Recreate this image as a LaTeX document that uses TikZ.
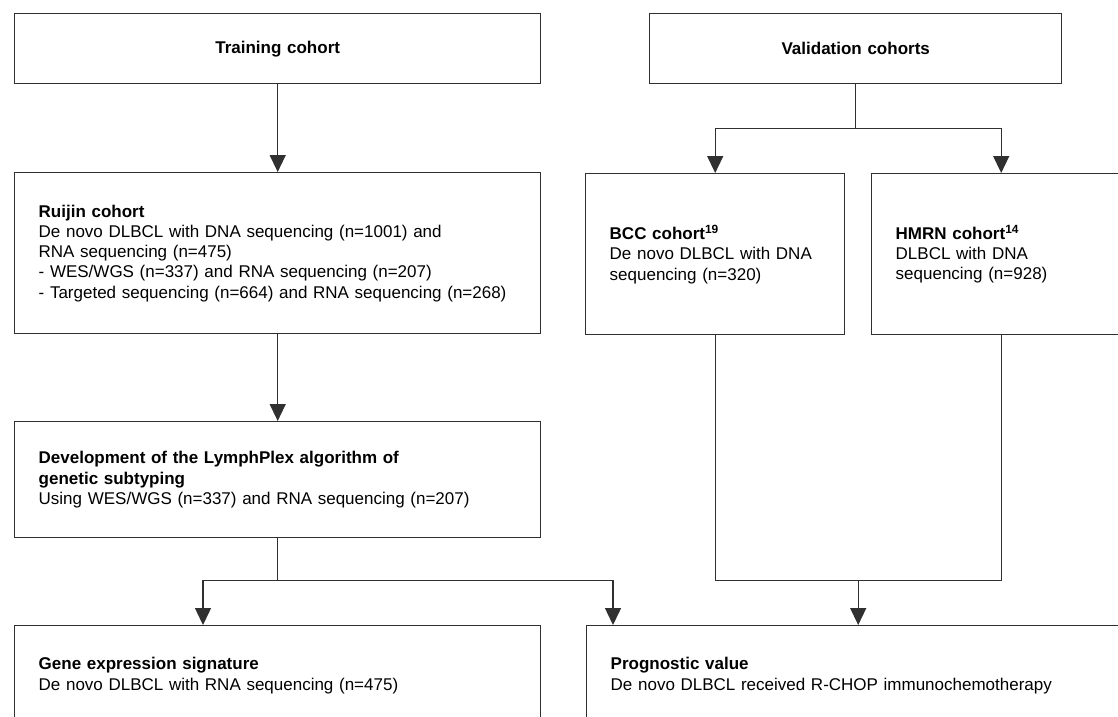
\documentclass[tikz,border=0pt]{standalone}
\usepackage{fontspec}
\setmainfont{Liberation Sans}
\usetikzlibrary{arrows.meta,calc}
\definecolor{linegray}{HTML}{303030}
\tikzset{
  box/.style={draw=linegray, line width=1.4pt, anchor=north west, inner xsep=24pt, inner ysep=0pt,
    align=left, font=\fontsize{17pt}{20.3pt}\selectfont},
  link/.style={draw=linegray, line width=1.4pt},
  arr/.style={link, -{Triangle[length=17pt,width=16pt]}},
}
\begin{document}
\begin{tikzpicture}[x=1pt,y=-1pt]
\useasboundingbox (0,0) rectangle (1118,716);

% top row
\node[box, text width=478pt, minimum height=70pt, align=center] (train) at (14,13) {\textbf{Training cohort}};
\node[box, text width=364pt, minimum height=70pt, align=center] (valid) at (649,13) {\textbf{Validation cohorts}};

% cohorts
\node[box, text width=478pt, minimum height=161pt] (ruijin) at (14,172) {\textbf{Ruijin cohort}\\
  De novo DLBCL with DNA sequencing (n=1001) and\\
  RNA sequencing (n=475)\\
  - WES/WGS (n=337) and RNA sequencing (n=207)\\
  - Targeted sequencing (n=664) and RNA sequencing (n=268)};
\node[box, text width=211pt, minimum height=161pt] (bcc) at (585,173) {\textbf{BCC cohort\textsuperscript{19}}\\
  De novo DLBCL with DNA\\ sequencing (n=320)};
\node[box, text width=211pt, minimum height=161pt] (hmrn) at (871,173) {\textbf{HMRN cohort\textsuperscript{14}}\\
  DLBCL with DNA\\ sequencing (n=928)};

\node[box, text width=478pt, minimum height=116pt] (dev) at (14,421) {\textbf{Development of the LymphPlex algorithm of}\\
  \textbf{genetic subtyping}\\
  Using WES/WGS (n=337) and RNA sequencing (n=207)};

% bottom row
\node[box, text width=478pt, minimum height=100pt] (gene) at (14,625) {\textbf{Gene expression signature}\\
  De novo DLBCL with RNA sequencing (n=475)};
\node[box, text width=500pt, minimum height=100pt] (prog) at (586,625) {\textbf{Prognostic value}\\
  De novo DLBCL received R-CHOP immunochemotherapy};

% connectors
\draw[arr] (train) -- (ruijin);
\draw[arr] (ruijin) -- (dev);

\draw[link] (valid.south) -- ++(0,44) coordinate (vsplit);
\draw[arr] (vsplit) -| (bcc.north);
\draw[arr] (vsplit) -| (hmrn.north);

\draw[link] (dev.south) -- ++(0,42) coordinate (dsplit);
\draw[arr] (dsplit) -| ([xshift=189pt]gene.north west);
\draw[arr] (dsplit) -| ([xshift=27pt]prog.north west);

\draw[link] (bcc.south) -- ++(0,245) coordinate (bjoin) -| (hmrn.south);
\coordinate (pjoin) at ($(bjoin)!0.5!(bjoin -| hmrn.south)$);
\draw[arr] (pjoin) -- (pjoin |- prog.north);
\end{tikzpicture}
\end{document}
